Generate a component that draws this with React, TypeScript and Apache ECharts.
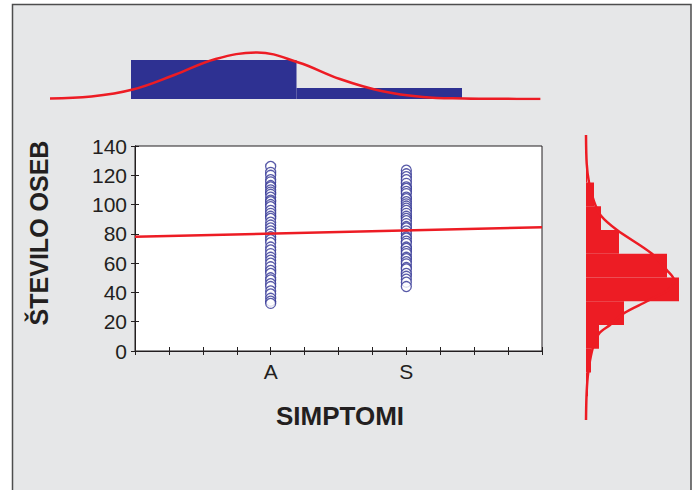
import React, { useEffect, useRef } from "react";
import * as echarts from "echarts";

// ---- data ----
const categories = ["A", "S"];
const groupA = [126, 122, 120, 117, 115.5, 113, 112, 110, 108.5, 107, 105, 103, 102, 100, 98.5, 96, 94, 92, 90.5, 88, 86, 84, 82, 80, 78, 76, 74, 71, 69, 66.5, 64, 62, 60, 57.5, 55, 53, 50, 48.5, 46, 44, 41, 39, 36, 34, 32.5];
const groupS = [123.5, 121, 119, 117, 114.5, 112, 111, 109, 107.5, 105, 104, 102, 100.5, 99, 97.5, 96, 94, 92, 90.5, 89, 87, 85, 84, 82, 80, 78, 77, 75, 73.5, 71, 70, 68, 66.5, 64, 63, 61, 59.5, 57, 56, 53, 51, 49, 47, 44];
const fitX = [0, 3];
const fitY = [78, 84.5];

const topCounts = [78, 22];
const topCurveX = [0, 0.25, 0.5, 0.75, 1.0, 1.25, 1.5, 1.75, 2.0, 2.25, 2.5, 2.75, 2.96];
const topCurveY = [1.2, 5, 19, 48, 80, 93, 73, 40, 16, 4, 1, 0.3, 0.2];

const rightBins = ["1", "2", "3", "4", "5", "6", "7", "8", "9", "10", "11", "12"];
const rightCounts = [0, 2, 5, 13, 38, 93, 81, 33, 15, 8, 1, 0];
const rightCurveY = [0, 1, 1.8, 2.5, 3.1, 3.65, 4.0, 4.5, 5.0, 5.5, 5.9, 6.3, 7.0, 8.0, 8.6, 9.2, 10.0, 10.8, 12];
const rightCurveX = [0, 0.5, 1.7, 4, 7.3, 13.3, 24, 38, 61, 83, 88, 81, 66, 31, 15, 8, 3, 0.7, 0];

const yLabel = "ŠTEVILO OSEB";
const xLabel = "SIMPTOMI";

const FONT = '"Liberation Sans", Arial, Helvetica, sans-serif';
const BLUE = "#2e3192";
const RED = "#ed1c24";
const INK = "#231f20";

export default function App() {
  const ref = useRef<HTMLDivElement>(null);
  useEffect(() => {
    if (!ref.current) return;
    const chart = echarts.init(ref.current, null, { renderer: "svg" });
    const hidden = { show: false };
    const mainTick = { show: true, inside: true, length: 4, lineStyle: { color: INK } };
    const option: any = {
      animation: false,
      backgroundColor: "#ffffff",
      textStyle: { fontFamily: FONT },
      graphic: [
        {
          type: "rect",
          z: -10,
          shape: { x: 12.5, y: 4.5, width: 678.5, height: 520 },
          style: { fill: "#e6e7e8", stroke: "#4d4d4d", lineWidth: 1.5 },
        },
        {
          type: "text",
          x: 39,
          y: 233,
          rotation: Math.PI / 2,
          style: {
            text: yLabel,
            fill: INK,
            fontFamily: FONT,
            fontWeight: "bold",
            fontSize: 25,
            align: "center",
            verticalAlign: "middle",
          },
        },
        {
          type: "text",
          x: 340,
          y: 416,
          style: {
            text: xLabel,
            fill: INK,
            fontFamily: FONT,
            fontWeight: "bold",
            fontSize: 26,
            align: "center",
            verticalAlign: "middle",
          },
        },
      ],
      grid: [
        { left: 135, top: 146, width: 407, height: 205, show: true, backgroundColor: "#ffffff", borderColor: INK, borderWidth: 1 },
        { left: 131, top: 49, width: 331, height: 50 },
        { left: 50, top: 49, width: 497, height: 50 },
        { left: 586, top: 135, width: 100, height: 285 },
        { left: 586, top: 135, width: 100, height: 285 },
      ],
      xAxis: [
        {
          gridIndex: 0,
          type: "value",
          position: "bottom",
          min: 0,
          max: 3,
          interval: 0.25,
          axisLine: { show: true, lineStyle: { color: INK } },
          axisTick: mainTick,
          splitLine: hidden,
          axisLabel: {
            fontSize: 21,
            color: INK,
            fontFamily: FONT,
            margin: 10,
            formatter: (v: number) => {
              const i = Math.round(v) - 1;
              return Math.abs(v - Math.round(v)) < 1e-6 && i >= 0 && i < categories.length ? categories[i] : "";
            },
          },
        },
        {
          gridIndex: 0,
          type: "value",
          position: "top",
          min: 0,
          max: 3,
          interval: 0.25,
          axisLine: { show: true, lineStyle: { color: INK } },
          axisTick: mainTick,
          splitLine: hidden,
          axisLabel: hidden,
        },
        { gridIndex: 1, type: "category", data: categories, show: false },
        { gridIndex: 2, type: "value", min: 0, max: 3, show: false, splitLine: hidden },
        { gridIndex: 3, type: "value", min: 0, max: 100, show: false, splitLine: hidden },
        { gridIndex: 4, type: "value", min: 0, max: 100, show: false, splitLine: hidden },
      ],
      yAxis: [
        {
          gridIndex: 0,
          type: "value",
          position: "left",
          min: 0,
          max: 140,
          interval: 20,
          axisLine: { show: true, lineStyle: { color: INK } },
          axisTick: mainTick,
          splitLine: hidden,
          axisLabel: { fontSize: 21, color: INK, fontFamily: FONT, margin: 8 },
        },
        {
          gridIndex: 0,
          type: "value",
          position: "right",
          min: 0,
          max: 140,
          interval: 20,
          axisLine: { show: true, lineStyle: { color: INK } },
          axisTick: mainTick,
          splitLine: hidden,
          axisLabel: hidden,
        },
        { gridIndex: 1, type: "value", min: 0, max: 100, show: false, splitLine: hidden },
        { gridIndex: 2, type: "value", min: 0, max: 100, show: false, splitLine: hidden },
        { gridIndex: 3, type: "category", data: rightBins, show: false },
        { gridIndex: 4, type: "value", min: 0, max: 12, show: false, splitLine: hidden },
      ],
      series: [
        {
          type: "scatter",
          xAxisIndex: 0,
          yAxisIndex: 0,
          symbol: "circle",
          symbolSize: 10,
          itemStyle: { color: "#ffffff", borderColor: BLUE, borderWidth: 1.3 },
          data: groupA.map((v) => [categories.indexOf("A") + 1, v]),
          z: 3,
        },
        {
          type: "scatter",
          xAxisIndex: 0,
          yAxisIndex: 0,
          symbol: "circle",
          symbolSize: 10,
          itemStyle: { color: "#ffffff", borderColor: BLUE, borderWidth: 1.3 },
          data: groupS.map((v) => [categories.indexOf("S") + 1, v]),
          z: 3,
        },
        {
          type: "line",
          xAxisIndex: 0,
          yAxisIndex: 0,
          symbol: "none",
          lineStyle: { color: RED, width: 2.5 },
          data: fitX.map((x, i) => [x, fitY[i]]),
          z: 5,
        },
        {
          type: "bar",
          xAxisIndex: 2,
          yAxisIndex: 2,
          barCategoryGap: "0%",
          itemStyle: { color: BLUE },
          data: topCounts,
        },
        {
          type: "line",
          xAxisIndex: 3,
          yAxisIndex: 3,
          symbol: "none",
          smooth: 0.4,
          lineStyle: { color: RED, width: 2.5 },
          data: topCurveX.map((x, i) => [x, topCurveY[i]]),
          z: 5,
        },
        {
          type: "bar",
          xAxisIndex: 4,
          yAxisIndex: 4,
          barCategoryGap: "0%",
          itemStyle: { color: RED },
          data: rightCounts,
        },
        {
          type: "line",
          xAxisIndex: 5,
          yAxisIndex: 5,
          symbol: "none",
          smooth: 0.3,
          lineStyle: { color: RED, width: 2.5 },
          data: rightCurveX.map((x, i) => [x, rightCurveY[i]]),
          z: 5,
        },
      ],
    };
    chart.setOption(option);
    return () => chart.dispose();
  }, []);
  return (
    <div
      ref={ref}
      style={{ position: "fixed", left: 0, top: 0, width: 695, height: 490 }}
    />
  );
}
